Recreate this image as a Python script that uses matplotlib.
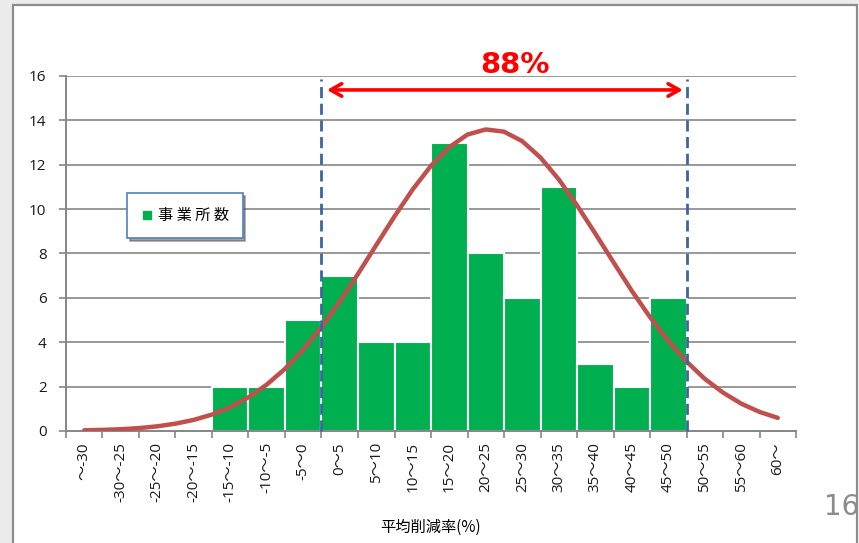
import matplotlib.pyplot as plt
import numpy as np
from matplotlib.patches import Rectangle
from matplotlib.lines import Line2D

plt.rcParams['font.family'] = ['Noto Sans CJK JP', 'DejaVu Sans']

# categories (5% bins of average reduction rate)
categories = ['～-30', '-30～-25', '-25～-20', '-20～-15', '-15～-10', '-10～-5', '-5～0',
              '0～5', '5～10', '10～15', '15～20', '20～25', '25～30', '30～35',
              '35～40', '40～45', '45～50', '50～55', '55～60', '60～']
counts = [0, 0, 0, 0, 2, 2, 5, 7, 4, 4, 13, 8, 6, 11, 3, 2, 6, 0, 0, 0]

# fitted normal curve, read at every half category (category index units)
curve_x = [0, 0.5, 1, 1.5, 2, 2.5, 3, 3.5, 4, 4.5, 5, 5.5, 6, 6.5, 7, 7.5, 8, 8.5, 9, 9.5,
           10, 10.5, 11, 11.5, 12, 12.5, 13, 13.5, 14, 14.5, 15, 15.5, 16, 16.5, 17, 17.5,
           18, 18.5, 19]
curve_y = [0.03, 0.05, 0.08, 0.13, 0.21, 0.33, 0.50, 0.74, 1.07, 1.52, 2.09, 2.80, 3.67,
           4.68, 5.83, 7.08, 8.38, 9.67, 10.89, 11.95, 12.79, 13.36, 13.59, 13.49, 13.06,
           12.32, 11.34, 10.17, 8.90, 7.60, 6.32, 5.13, 4.06, 3.13, 2.35, 1.73, 1.23, 0.86,
           0.59]

range_lo, range_hi = 6.5, 16.5
range_label = '88%'

tick_font = ['Open Sans', 'Noto Sans CJK JP']

fig = plt.figure(figsize=(8.59, 5.43), dpi=100)

# slide frame
fig.patches.append(Rectangle((0, 0), 13 / 859, 1, transform=fig.transFigure,
                             facecolor='#ececec', edgecolor='none', zorder=-2))
fig.patches.append(Rectangle((0, 1 - 5 / 543), 1, 5 / 543, transform=fig.transFigure,
                             facecolor='#ececec', edgecolor='none', zorder=-2))
fig.patches.append(Rectangle((13 / 859, -0.05), 844 / 859, 1.05 - 5 / 543,
                             transform=fig.transFigure, facecolor='white',
                             edgecolor='#8c8c8c', lw=1.6, zorder=-1))

ax = fig.add_axes([0.0768, 0.2063, 0.8499, 0.6538])
ax.set_zorder(1)
ax.set_facecolor('none')
x = np.arange(len(categories))

ax.bar(x, counts, width=1.0, color='#00b050', edgecolor='white', linewidth=1.5,
       label='事業所数', zorder=2)
ax.plot(curve_x, curve_y, color='#c0504d', lw=3.2, solid_capstyle='round', zorder=3)

for xv in (range_lo, range_hi):
    ax.plot([xv, xv], [0, 15.85], color='#3e65a0', lw=2, dashes=(4, 2), zorder=4,
            clip_on=False)

ax.annotate('', xy=(range_lo + 0.15, 15.37), xytext=(range_hi - 0.1, 15.37),
            arrowprops=dict(arrowstyle='<->,head_length=0.8,head_width=0.45',
                            color='#ff0000', lw=2.6, shrinkA=0, shrinkB=0),
            annotation_clip=False, zorder=5)
ax.text(11.8, 16.5, range_label, color='#ff0000', fontsize=21, fontweight='bold',
        ha='center', va='center', family='DejaVu Sans')

ax.set_xlim(-0.5, len(categories) - 0.5)
ax.set_ylim(0, 16)
ax.set_yticks(np.arange(0, 17, 2))
ax.grid(axis='y', color='#868686', lw=1.2, zorder=0)
ax.set_axisbelow(True)

ax.set_xticks(x)
ax.set_xticklabels(categories, rotation=90, fontsize=11, color='#1a1a1a',
                   family=tick_font)
ax.set_xticks(np.arange(-0.5, len(categories), 1), minor=True)
ax.tick_params(axis='x', which='major', length=0, pad=8)
ax.tick_params(axis='x', which='minor', length=5, color='#868686', width=1.2)
ax.tick_params(axis='y', length=5, color='#868686', width=1.2, labelsize=11,
               labelcolor='#1a1a1a', pad=9)
for lbl in ax.get_yticklabels():
    lbl.set_family(tick_font)

for s in ('top', 'right'):
    ax.spines[s].set_visible(False)
for s in ('left', 'bottom'):
    ax.spines[s].set_color('#868686')
    ax.spines[s].set_linewidth(1.4)

ax.set_xlabel('平均削減率(%)', fontsize=11, labelpad=12)

handle = Line2D([], [], marker='s', color='none', markerfacecolor='#00b050',
                markeredgecolor='#00b050', markersize=6)
leg = ax.legend([handle], ['事 業 所 数'], loc='center', bbox_to_anchor=(0.163, 0.607),
                fontsize=11, fancybox=False, shadow=True, handlelength=0.8,
                handletextpad=0.3, borderpad=0.9, borderaxespad=0, framealpha=1)
leg.get_frame().set_edgecolor('#4f81bd')
leg.get_frame().set_linewidth(1.2)

fig.text(859 / 859, 1 - 507 / 543, '16', color='#8c8c8c', fontsize=20,
         ha='right', va='center', family='DejaVu Sans')

fig.savefig('out.png', dpi=100)
